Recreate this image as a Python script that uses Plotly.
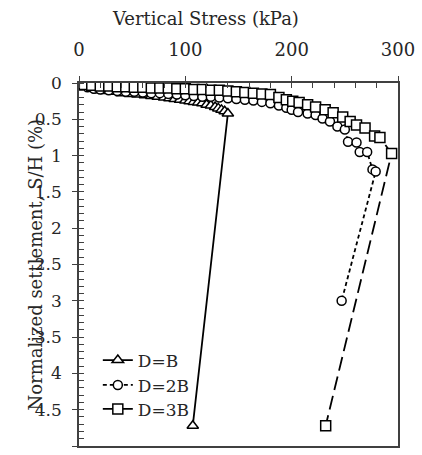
import plotly.graph_objects as go

# D=B (triangles)
xb = [0, 3, 7, 12, 18, 25, 32, 40, 48, 55, 62, 68, 74, 80, 85, 90, 95, 100, 104, 108,
      112, 116, 120, 124, 128, 131, 134, 137, 140, 107]
yb = [0, 0.03, 0.06, 0.08, 0.10, 0.11, 0.12, 0.14, 0.15, 0.16, 0.17, 0.18, 0.19, 0.20,
      0.21, 0.22, 0.23, 0.24, 0.25, 0.26, 0.27, 0.28, 0.30, 0.31, 0.33, 0.35, 0.37, 0.39,
      0.42, 4.72]

# D=2B (circles)
x2b = [0, 3, 8, 14, 20, 28, 36, 44, 52, 60, 68, 76, 84, 92, 100, 108, 116, 124, 132, 140,
       148, 156, 164, 172, 180, 188, 195, 200, 206, 215, 222.5, 229, 236, 243, 250, 253,
       261, 264, 271, 276, 279, 247]
y2b = [0, 0.03, 0.06, 0.08, 0.09, 0.10, 0.11, 0.12, 0.12, 0.13, 0.14, 0.14, 0.15, 0.16,
       0.17, 0.18, 0.19, 0.19, 0.20, 0.21, 0.22, 0.23, 0.24, 0.26, 0.28, 0.31, 0.34, 0.37,
       0.40, 0.42, 0.44, 0.49, 0.53, 0.60, 0.64, 0.81, 0.82, 0.95, 0.95, 1.19, 1.22, 3.0]

# D=3B (squares)
x3b = [0, 5, 12, 20, 28, 36, 44, 52, 60, 68, 76, 84, 92, 100, 108, 116, 124, 132, 140,
       148, 156, 164, 172, 180, 188, 195, 201, 207, 215, 222.5, 231.5, 239, 248, 255, 261,
       269, 278, 283, 294, 232]
y3b = [0, 0.02, 0.03, 0.04, 0.04, 0.05, 0.05, 0.06, 0.06, 0.07, 0.07, 0.07, 0.08, 0.08,
       0.09, 0.09, 0.10, 0.10, 0.11, 0.12, 0.13, 0.14, 0.15, 0.16, 0.20, 0.23, 0.25, 0.27,
       0.30, 0.33, 0.37, 0.41, 0.47, 0.53, 0.58, 0.62, 0.73, 0.75, 0.97, 4.72]

x_title = "Vertical Stress (kPa)"
y_title = "Normalized settlement, S/H (%)"

FONT = "DejaVu Serif"
TXT = "#262626"
AX = "#404040"

fig = go.Figure()

def add(x, y, name, symbol, size, dash, legend):
    fig.add_trace(go.Scatter(
        x=x, y=y, name=name, mode="lines+markers", legend=legend,
        line=dict(color="black", width=1.8, dash=dash),
        marker=dict(symbol=symbol, size=size, color="white",
                    line=dict(color="black", width=1.5)),
    ))

add(xb, yb, "D=B", "triangle-up", 10, "solid", "legend")
add(x2b, y2b, "D=2B", "circle", 9, "4px,3px", "legend2")
add(x3b, y3b, "D=3B", "square", 10, "14px,6px", "legend3")

# helper trace for the overlay axes (inner half of major ticks)
fig.add_trace(go.Scatter(x=[], y=[], xaxis="x2", yaxis="y2", showlegend=False,
                         hoverinfo="skip"))

def leg(y):
    return dict(x=0.059, y=y, xanchor="left", yanchor="middle",
                bgcolor="rgba(0,0,0,0)", font=dict(size=17, color=TXT, family=FONT))

fig.update_layout(
    width=422, height=455,
    margin=dict(l=79, r=19, t=83, b=7),
    paper_bgcolor="white", plot_bgcolor="white",
    font=dict(family=FONT, size=17, color=TXT),
    showlegend=True,
    legend=leg(0.2356), legend2=leg(0.167), legend3=leg(0.101),
    xaxis=dict(side="top", range=[0, 300], dtick=100, tick0=0,
               ticks="outside", ticklen=5, tickwidth=1.2, tickcolor=AX,
               minor=dict(ticks="inside", dtick=20, ticklen=5, tickcolor=AX, tickwidth=1),
               showline=True, linecolor=AX, linewidth=1.5, mirror=True,
               showgrid=False, zeroline=False, ticklabelstandoff=13,
               tickfont=dict(size=18, color=TXT, family=FONT)),
    yaxis=dict(range=[5, 0], dtick=0.5, tick0=0,
               ticks="outside", ticklen=5, tickwidth=1.2, tickcolor=AX,
               minor=dict(ticks="inside", dtick=0.1, ticklen=5, tickcolor=AX, tickwidth=1),
               showline=True, linecolor=AX, linewidth=1.5, mirror=True,
               showgrid=False, zeroline=False, ticklabelstandoff=7,
               tickfont=dict(size=17, color=TXT, family=FONT)),
    xaxis2=dict(overlaying="x", anchor="y", side="top", range=[0, 300], dtick=100, tick0=0,
                ticks="inside", ticklen=5, tickwidth=1.2, tickcolor=AX,
                showticklabels=False, showline=False, showgrid=False, zeroline=False),
    yaxis2=dict(overlaying="y", anchor="x", side="left", range=[5, 0], dtick=0.5, tick0=0,
                ticks="inside", ticklen=5, tickwidth=1.2, tickcolor=AX,
                showticklabels=False, showline=False, showgrid=False, zeroline=False),
    annotations=[
        dict(text=x_title, xref="paper", yref="paper", x=0.395, y=1, yshift=65,
             xanchor="center", yanchor="middle", showarrow=False,
             font=dict(size=18, color=TXT, family=FONT)),
        dict(text=y_title, xref="paper", yref="paper", x=0, xshift=-44, y=0.5,
             xanchor="center", yanchor="middle", textangle=-90, showarrow=False,
             font=dict(size=18, color=TXT, family=FONT)),
    ],
)

fig.write_html("out.html")
